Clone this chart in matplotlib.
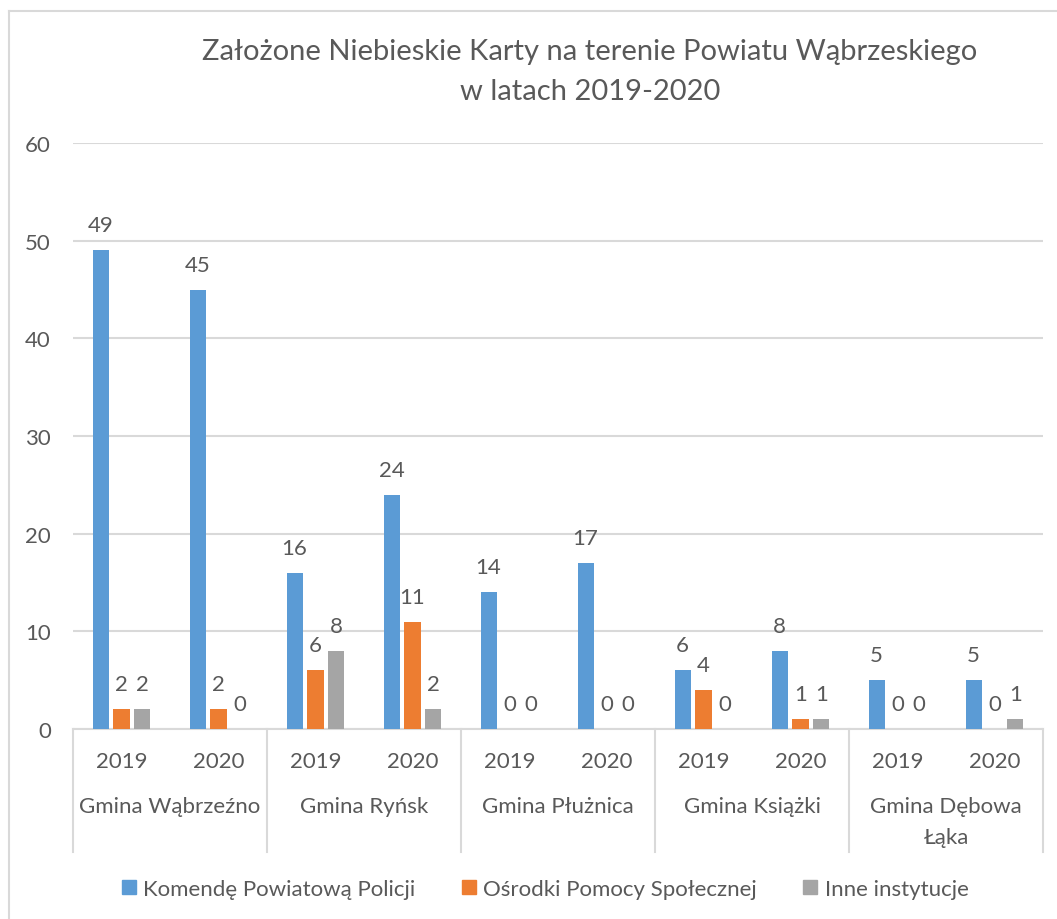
import matplotlib.pyplot as plt
import matplotlib.transforms as mtransforms
from matplotlib.lines import Line2D
import numpy as np

plt.rcParams['font.family'] = ['Lato', 'DejaVu Sans']

gminas = ['Gmina Wąbrzeźno', 'Gmina Ryńsk', 'Gmina Płużnica', 'Gmina Książki', 'Gmina Dębowa\nŁąka']
years = ['2019', '2020']
series_names = ['Komendę Powiatową Policji', 'Ośrodki Pomocy Społecznej', 'Inne instytucje']
policja = [49, 45, 16, 24, 14, 17, 6, 8, 5, 5]
ops = [2, 2, 6, 11, 0, 0, 4, 1, 0, 0]
inne = [2, 0, 8, 2, 0, 0, 0, 1, 0, 1]

colors = ['#5B9BD5', '#ED7D31', '#A5A5A5']
text_color = '#595959'
grid_color = '#D9D9D9'
fs = 16

fig = plt.figure(figsize=(10.57, 9.2), dpi=100)
ax = fig.add_axes([73 / 1057, 190 / 920, 970 / 1057, 586 / 920])

n = len(policja)
x = np.arange(n)
width = 0.165
step = 0.216
for i, (vals, col) in enumerate(zip([policja, ops, inne], colors)):
    xs = x + (i - 1) * step
    ax.bar(xs, vals, width=width, color=col, zorder=3)
    for xi, v in zip(xs, vals):
        ax.annotate(str(v), xy=(xi, v), xytext=(0, 18), textcoords='offset points',
                    ha='center', va='center', fontsize=fs, color=text_color)

ax.set_xlim(-0.5, n - 0.5)
ax.set_ylim(0, 60)
ax.set_yticks(range(0, 61, 10))
ax.yaxis.grid(True, color=grid_color, linewidth=1.5, zorder=0)
ax.tick_params(axis='y', length=0, labelsize=fs, labelcolor=text_color, pad=16)
ax.set_xticks([])
for side in ['top', 'right', 'left']:
    ax.spines[side].set_visible(False)
ax.spines['bottom'].set_color(grid_color)
ax.spines['bottom'].set_linewidth(1.5)

# two-level category axis
trans = mtransforms.blended_transform_factory(ax.transData, ax.transAxes)
for k in range(len(gminas) + 1):
    ax.plot([2 * k - 0.5, 2 * k - 0.5], [0, -0.21], transform=trans, color=grid_color,
            linewidth=1.5, clip_on=False)
for i in range(n):
    ax.text(i, -0.055, years[i % 2], transform=trans, ha='center', va='center',
            fontsize=fs, color=text_color)
for k, g in enumerate(gminas):
    ax.text(2 * k + 0.5, -0.114, g, transform=trans, ha='center', va='top',
            fontsize=fs, color=text_color, linespacing=1.7)

fig.text(0.558, (920 - 52) / 920, 'Założone Niebieskie Karty na terenie Powiatu Wąbrzeskiego',
         ha='center', va='center', fontsize=21, color=text_color)
fig.text(0.558, (920 - 92) / 920, 'w latach 2019-2020',
         ha='center', va='center', fontsize=21, color=text_color)

handles = [Line2D([], [], marker='s', linestyle='none', markersize=10.5, color=c) for c in colors]
fig.legend(handles, series_names, loc='center', bbox_to_anchor=(0.515, 0.033), ncol=3,
           frameon=False, fontsize=fs, labelcolor=text_color, handletextpad=0.25,
           columnspacing=2.0, handlelength=0.8)

# outer chart border
fig.add_artist(Line2D([9 / 1057, 9 / 1057], [0, 908 / 920], color=grid_color, linewidth=1.5))
fig.add_artist(Line2D([9 / 1057, 1], [908 / 920, 908 / 920], color=grid_color, linewidth=1.5))

fig.savefig('out.png', dpi=100)
